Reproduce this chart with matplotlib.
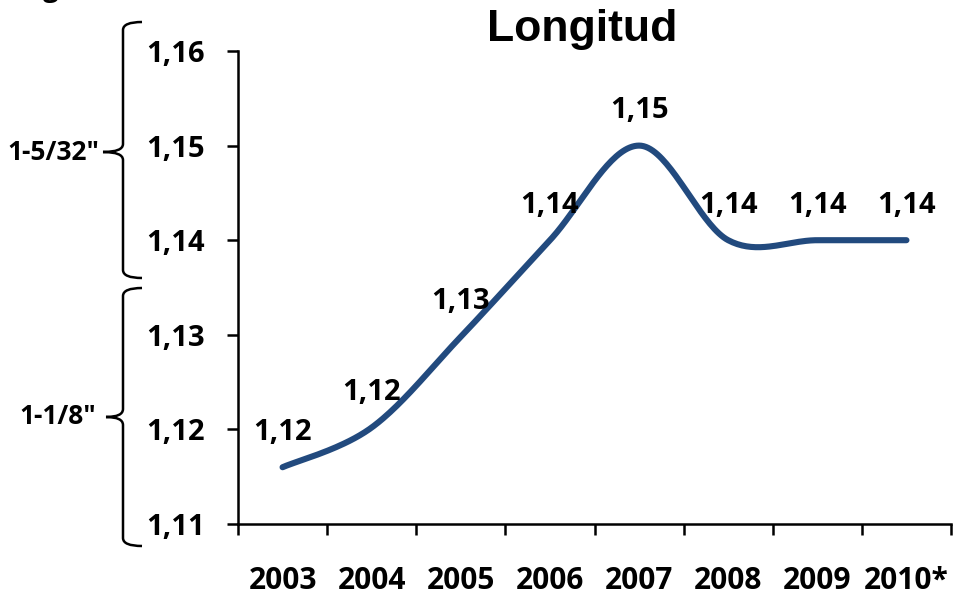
import numpy as np
import matplotlib
matplotlib.use('Agg')
import matplotlib.pyplot as plt
from matplotlib.path import Path
from matplotlib.patches import PathPatch
from matplotlib.ticker import FuncFormatter

# data
years = ['2003', '2004', '2005', '2006', '2007', '2008', '2009', '2010*']
values = [1.116, 1.1202, 1.1298, 1.14, 1.15, 1.14, 1.14, 1.14]
point_labels = ['1,12', '1,12', '1,13', '1,14', '1,15', '1,14', '1,14', '1,14']
yticks = [1.11, 1.12, 1.13, 1.14, 1.15, 1.16]
brace_labels = ['1-5/32"', '1-1/8"']

W, H = 958, 600
line_color = '#224A7E'
font = 'Open Sans'


def smooth(xs, ys, n=40):
    # catmull-rom, same idea as the "smoothed line" option in spreadsheets
    xs = np.asarray(xs, float)
    ys = np.asarray(ys, float)
    px = np.concatenate([[xs[0]], xs, [xs[-1]]])
    py = np.concatenate([[ys[0]], ys, [ys[-1]]])
    outx, outy = [], []
    t = np.linspace(0, 1, n)
    for i in range(1, len(px) - 2):
        mx0 = (px[i + 1] - px[i - 1]) / 2
        mx1 = (px[i + 2] - px[i]) / 2
        my0 = (py[i + 1] - py[i - 1]) / 2
        my1 = (py[i + 2] - py[i]) / 2
        h00 = 2 * t**3 - 3 * t**2 + 1
        h10 = t**3 - 2 * t**2 + t
        h01 = -2 * t**3 + 3 * t**2
        h11 = t**3 - t**2
        outx.append(h00 * px[i] + h10 * mx0 + h01 * px[i + 1] + h11 * mx1)
        outy.append(h00 * py[i] + h10 * my0 + h01 * py[i + 1] + h11 * my1)
    return np.concatenate(outx), np.concatenate(outy)


def brace(fig, x, y0, y1, ym, tip, hook):
    # curly brace in figure pixels (y from top)
    X = lambda v: v / W
    Y = lambda v: 1 - v / H
    r = 8
    verts = [(X(x + hook), Y(y0)), (X(x), Y(y0)), (X(x), Y(y0 + r)),
             (X(x), Y(ym - r)),
             (X(x), Y(ym)), (X(tip), Y(ym)),
             (X(x), Y(ym)), (X(x), Y(ym + r)),
             (X(x), Y(y1 - r)),
             (X(x), Y(y1)), (X(x + hook), Y(y1))]
    codes = [Path.MOVETO, Path.CURVE3, Path.CURVE3,
             Path.LINETO,
             Path.CURVE3, Path.CURVE3,
             Path.CURVE3, Path.CURVE3,
             Path.LINETO,
             Path.CURVE3, Path.CURVE3]
    fig.patches.append(PathPatch(Path(verts, codes), transform=fig.transFigure,
                                 fill=False, lw=1.8, color='black'))


fig = plt.figure(figsize=(W / 100, H / 100), dpi=100)
ax = fig.add_axes([238 / W, 76 / H, (951 - 238) / W, (524 - 51) / H])

x = np.arange(len(years))
sx, sy = smooth(x, values)
ax.plot(sx, sy, color=line_color, lw=4.4, solid_capstyle='round')

for xi, v, lab in zip(x, values, point_labels):
    ax.annotate(lab, (xi, v), xytext=(0, 25), textcoords='offset points',
                ha='center', va='center', fontsize=21, fontweight='bold',
                family=font)

ax.set_xlim(-0.5, len(years) - 0.5)
ax.set_ylim(1.11, 1.16)
ax.set_yticks(yticks)
ax.yaxis.set_major_formatter(FuncFormatter(lambda v, p: '{:.2f}'.format(v).replace('.', ',')))
ax.set_xticks(np.arange(len(years) + 1) - 0.5)
ax.set_xticklabels([])
ax.set_xticks(x, minor=True)
ax.set_xticklabels(years, minor=True)

for s in ['top', 'right']:
    ax.spines[s].set_visible(False)
for s in ['left', 'bottom']:
    ax.spines[s].set_linewidth(1.8)

ax.tick_params(axis='both', which='major', length=8, width=1.8, direction='out')
ax.tick_params(axis='y', pad=16, labelsize=21)
ax.tick_params(axis='x', which='minor', length=0, pad=30, labelsize=21.5)
for lab in ax.get_yticklabels() + ax.get_xticklabels(minor=True):
    lab.set_fontweight('bold')
    lab.set_family(font)

fig.text(582 / W, 1 - 30 / H, 'Longitud', ha='center', va='center',
         fontsize=32, fontweight='bold', family='Liberation Sans')

# brackets on the left
brace(fig, 123, 22, 278, 152, 103, 19)
brace(fig, 123, 288, 546, 417, 106, 19)
fig.text(99 / W, 1 - 152 / H, brace_labels[0], ha='right', va='center',
         fontsize=19, fontweight='bold', family=font)
fig.text(96 / W, 1 - 417 / H, brace_labels[1], ha='right', va='center',
         fontsize=19, fontweight='bold', family=font)
# clipped bit of text at the very top
fig.text(51 / W, 1 + 4 / H, 'g', ha='center', va='baseline',
         fontsize=20, fontweight='bold', family=font)

fig.savefig('out.png', dpi=100, facecolor='white')
